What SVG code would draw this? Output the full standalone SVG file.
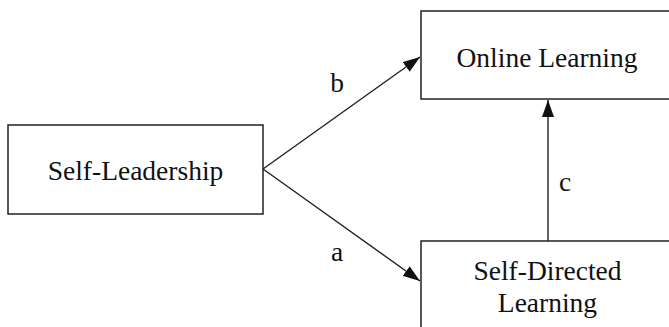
<svg xmlns="http://www.w3.org/2000/svg" width="669" height="327" viewBox="0 0 669 327">
<style>
.box{fill:#fff;stroke:#222;stroke-width:1.5}
.lbl{font-family:"Liberation Serif","Times New Roman",serif;font-size:27.5px;fill:#111;text-anchor:middle}
.edge{stroke:#222;stroke-width:1.4;fill:none}
</style>
<defs>
<marker id="ah" markerWidth="18" markerHeight="12" refX="17" refY="6" orient="auto" markerUnits="userSpaceOnUse">
<path d="M0,0 L17,6 L0,12 Z" fill="#111"/>
</marker>
</defs>
<rect width="669" height="327" fill="#fff"/>
<g id="connectors">
<line class="edge" x1="263" y1="169" x2="420" y2="57" marker-end="url(#ah)"/>
<line class="edge" x1="263" y1="169" x2="420" y2="281" marker-end="url(#ah)"/>
<line class="edge" x1="548" y1="241" x2="548" y2="100" marker-end="url(#ah)"/>
<text class="lbl" x="337" y="92">b</text>
<text class="lbl" x="337" y="261">a</text>
<text class="lbl" x="565" y="191">c</text>
</g>
<g id="self-leadership">
<rect class="box" x="8" y="125" width="255" height="89"/>
<text class="lbl" x="135.5" y="180">Self-Leadership</text>
</g>
<g id="online-learning">
<rect class="box" x="421" y="11" width="260" height="88"/>
<text class="lbl" x="547" y="67">Online Learning</text>
</g>
<g id="self-directed-learning">
<rect class="box" x="421" y="241" width="260" height="100"/>
<text class="lbl" x="547.5" y="280">Self-Directed</text>
<text class="lbl" x="547.5" y="312">Learning</text>
</g>
</svg>
